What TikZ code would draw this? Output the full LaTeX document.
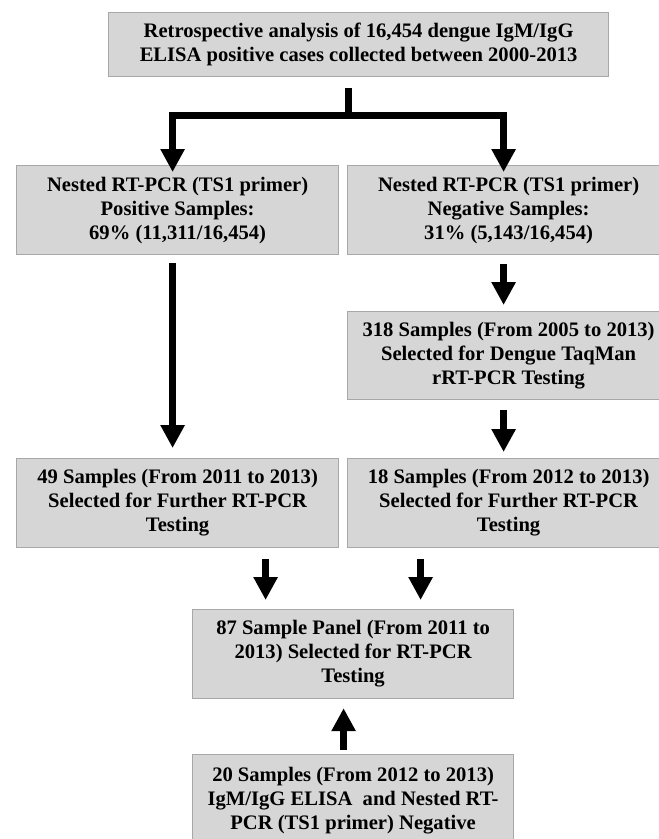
\documentclass[tikz,border=0pt]{standalone}
\usepackage{fontspec}
\setmainfont{Liberation Serif}
\usetikzlibrary{
  arrows.meta,
  calc,
  positioning
}
\definecolor{boxgray}{RGB}{214,214,214}
\definecolor{edgegray}{RGB}{168,168,168}

\begin{document}
\begin{tikzpicture}[x=1pt, y=-1pt,
  font=\fontsize{20.6}{24}\selectfont\bfseries,
  stagebox/.style={draw=edgegray, line width=1.2pt, fill=boxgray, align=center,
    inner sep=0pt, anchor=north west, minimum width=322pt, minimum height=89pt},
  flow/.style={line width=7pt, -{Triangle[length=23pt, width=23pt]}},
  stem/.style={line width=7pt}]
  \useasboundingbox (0,0) rectangle (659,839);

  % Row 0: all ELISA positive cases
  \node[stagebox, minimum width=500pt, minimum height=64pt] (cases) at (108,12)
    {Retrospective analysis of 16,454 dengue IgM/IgG\\
     ELISA positive cases collected between 2000-2013};

  % Row 1: nested RT-PCR split
  \node[stagebox] (pos) at (16,165)
    {Nested RT-PCR (TS1 primer)\\ Positive Samples:\\ 69\% (11,311/16,454)};
  \node[stagebox] (neg) at (347,165)
    {Nested RT-PCR (TS1 primer)\\ Negative Samples:\\ 31\% (5,143/16,454)};

  % Row 2: TaqMan selection
  \node[stagebox, minimum height=88pt] (taqman) at (347,311)
    {318 Samples (From 2005 to 2013)\\ Selected for Dengue TaqMan\\ rRT-PCR Testing};

  % Row 3: further RT-PCR selections
  \node[stagebox] (furtherL) at (16,458)
    {49 Samples (From 2011 to 2013)\\ Selected for Further RT-PCR\\ Testing};
  \node[stagebox] (furtherR) at (347,458)
    {18 Samples (From 2012 to 2013)\\ Selected for Further RT-PCR\\ Testing};

  % Row 4: final panel and extra negatives
  \node[stagebox, minimum width=321pt] (panel) at (192,609)
    {87 Sample Panel (From 2011 to\\ 2013) Selected for RT-PCR\\ Testing};
  \node[stagebox, minimum width=321pt, minimum height=93pt] (extra) at (192,754)
    {20 Samples (From 2012 to 2013)\\ IgM/IgG ELISA\ \ and Nested RT-\\ PCR (TS1 primer) Negative};

  % Branch
  \coordinate (split) at (348,115);
  \draw[stem] ($(cases.south -| split)+(0,11)$) -- ([yshift=3.5pt]split);
  \draw[flow] (split) -| ([xshift=-5pt, yshift=-7pt]pos.north);
  \draw[flow] (split) -| ([xshift=-5pt, yshift=-7pt]neg.north);

  % Straight arrows
  \draw[flow, shorten <=8pt, shorten >=10pt] ([xshift=-5pt]pos.south) -- ([xshift=-5pt]furtherL.north);
  \draw[flow, shorten <=9pt, shorten >=6pt] ([xshift=-5pt]neg.south) -- ([xshift=-5pt]taqman.north);
  \draw[flow, shorten <=10pt, shorten >=6pt] ([xshift=-5pt]taqman.south) -- ([xshift=-5pt]furtherR.north);
  \coordinate (inL) at ($(panel.north)+(-87.5,0)$);
  \coordinate (inR) at ($(panel.north)+(67.5,0)$);
  \draw[flow, shorten <=11pt, shorten >=9pt] (furtherL.south -| inL) -- (inL);
  \draw[flow, shorten <=11pt, shorten >=9pt] (furtherR.south -| inR) -- (inR);
  \draw[flow, shorten <=4pt, shorten >=9pt] ([xshift=-9.5pt]extra.north) -- ([xshift=-9.5pt]panel.south);
\end{tikzpicture}
\end{document}
